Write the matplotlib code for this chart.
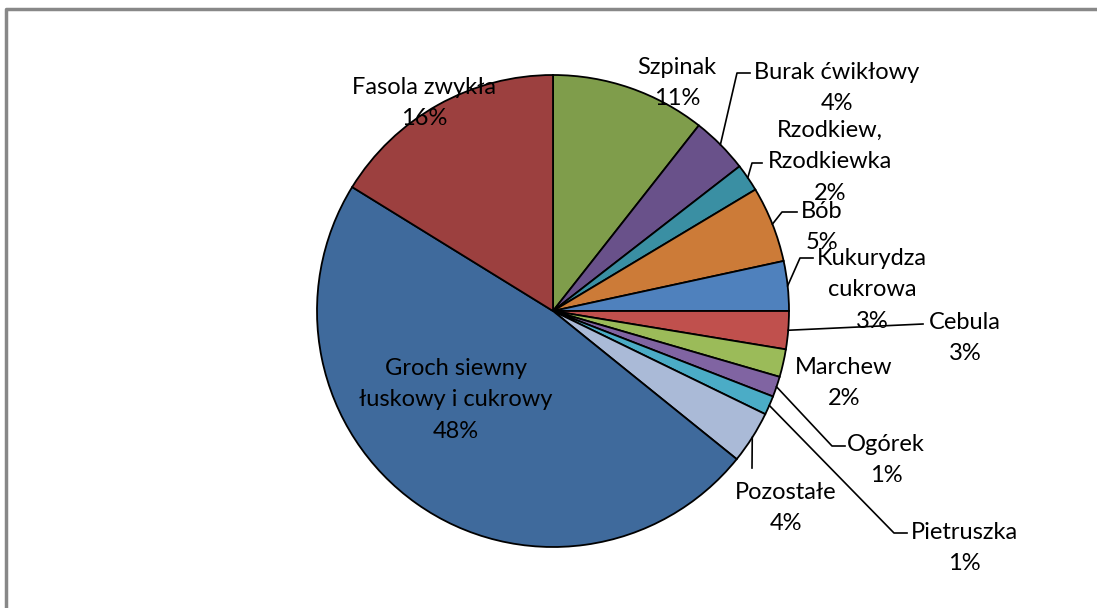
import numpy as np
import matplotlib.pyplot as plt

plt.rcParams['font.family'] = ['Lato', 'DejaVu Sans']

W, H = 1097, 608

# udział upraw (%), w kolejności od godziny 12 zgodnie z ruchem wskazówek zegara
names = ["Szpinak", "Burak ćwikłowy", "Rzodkiew,\nRzodkiewka", "Bób",
         "Kukurydza\ncukrowa", "Cebula", "Marchew", "Ogórek", "Pietruszka",
         "Pozostałe", "Groch siewny\nłuskowy i cukrowy", "Fasola zwykła"]
shares = [10.6, 3.9, 1.9, 5.2, 3.4, 2.6, 1.9, 1.4, 1.3, 3.6, 48.0, 16.2]
colors = ["#7F9D4B", "#69518A", "#3A8FA3", "#CC7B38", "#4F81BD", "#C0504D",
          "#9BBB59", "#8064A2", "#4BACC6", "#AABAD7", "#3F6A9C", "#9C403F"]

# rozmieszczenie etykiet (piksele, y od góry) i załamania linii odniesienia
label_pos = [(677, 83), (837, 88), (830, 162), (822, 227), (872, 290),
             (965, 338), (844, 383), (886, 460), (964, 548), (786, 508),
             (456, 400), (424, 103)]
leaders = {1: [(737, 73), (750, 73)],
           2: [(752, 163), (762, 163)],
           3: [(782, 212), (797, 212)],
           4: [(800, 258), (813, 258)],
           5: [(923, 324)],
           7: [(832, 446), (845, 446)],
           8: [(894, 533), (907, 533)],
           9: [(752, 468)]}

cx, cy, r = 553, 311, 236

fig = plt.figure(figsize=(W / 100, H / 100), dpi=100)
ax = fig.add_axes([0, 0, 1, 1])
ax.set_xlim(0, W)
ax.set_ylim(0, H)
ax.set_aspect('equal')
ax.axis('off')

wedges, _ = ax.pie(shares, colors=colors, startangle=90, counterclock=False,
                   center=(cx, H - cy), radius=r,
                   wedgeprops=dict(edgecolor='black', linewidth=1.3))
ax.set_xlim(0, W)
ax.set_ylim(0, H)

total = sum(shares)
for i, (name, v) in enumerate(zip(names, shares)):
    x, y = label_pos[i]
    ax.text(x, H - y, f"{name}\n{v / total * 100:.0f}%", ha='center', va='center',
            fontsize=17, linespacing=1.6, color='black')
    if i in leaders:
        w = wedges[i]
        mid = np.deg2rad((w.theta1 + w.theta2) / 2)
        pts = [(cx + r * np.cos(mid), H - cy + r * np.sin(mid))]
        pts += [(px, H - py) for px, py in leaders[i]]
        xs, ys = zip(*pts)
        ax.plot(xs, ys, color='black', lw=1.2)

# ramka wykresu
ax.plot([6, 6, W], [0, H - 9, H - 9], color='#888888', lw=2.5)

fig.savefig("out.png", dpi=100)
